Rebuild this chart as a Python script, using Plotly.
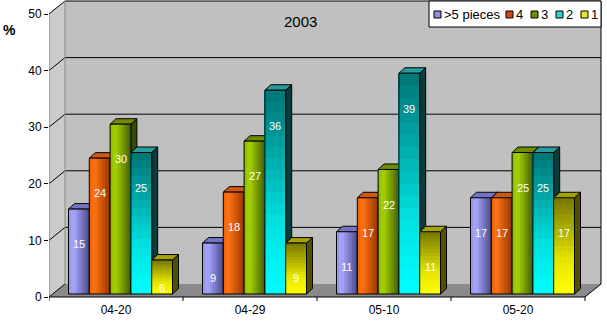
import plotly.graph_objects as go

# ---- data -------------------------------------------------------------
categories = ["04-20", "04-29", "05-10", "05-20"]
series_names = [">5 pieces", "4", "3", "2", "1"]
pieces_5plus = [15, 9, 11, 17]
pieces_4 = [24, 18, 17, 17]
pieces_3 = [30, 27, 22, 25]
pieces_2 = [25, 36, 39, 25]
pieces_1 = [6, 9, 11, 17]
y_tick_values = [0, 10, 20, 30, 40, 50]
chart_title = "2003"
y_title = "%"

series_values = [pieces_5plus, pieces_4, pieces_3, pieces_2, pieces_1]

# ---- styles -------------------------------------------------------------
# (gradient direction, gradient stops, top face, side face, legend swatch)
styles = [
    ("h", [(0.0, "#9090e4"), (0.25, "#a8a8ff"), (1.0, "#4a4a8c")], "#7474c2", "#3e3e76", "#8f8fd8"),
    ("h", [(0.0, "#f06000"), (0.25, "#ff7414"), (1.0, "#963600")], "#cc5a14", "#722c00", "#d04a10"),
    ("h", [(0.0, "#8cb800"), (0.25, "#a6d600"), (1.0, "#445c00")], "#6f8c00", "#384a00", "#6b8e00"),
    ("v", [(0.0, "#00ffff"), (0.35, "#00e0e0"), (1.0, "#007474")], "#269c9c", "#0a3c3c", "#30d0d0"),
    ("v", [(0.0, "#ffff00"), (0.35, "#e6e600"), (1.0, "#767600")], "#a4a400", "#505000", "#e8e820"),
]

FONT = "Liberation Sans, Arial, sans-serif"

# ---- geometry (pixel scale of the front plane) -------------------------
W_PX, H_PX = 607, 325
M_L, M_R, M_T, M_B = 49, 4, 0, 24
PX_PER_CAT = 134.0
PX_PER_UNIT = 5.66
plot_w = W_PX - M_L - M_R
plot_h = H_PX - M_T - M_B
x_range = [0, plot_w / PX_PER_CAT]
y_range = [-(plot_h - 297) / PX_PER_UNIT, 297 / PX_PER_UNIT]

n_cat = len(categories)
wall_dx = 16 / PX_PER_CAT
wall_dy = 13 / PX_PER_UNIT
y_top = y_tick_values[-1]

bar_w = 20.8 / PX_PER_CAT
bar_shift = 4.5 / PX_PER_CAT
bar_base = 3 / PX_PER_UNIT
bar_dx = 6 / PX_PER_CAT
bar_dy = 5.5 / PX_PER_UNIT


def hex_to_rgb(h):
    h = h.lstrip("#")
    return tuple(int(h[i:i + 2], 16) for i in (0, 2, 4))


def gradient_color(stops, t):
    for (t0, c0), (t1, c1) in zip(stops[:-1], stops[1:]):
        if t <= t1:
            f = 0 if t1 == t0 else (t - t0) / (t1 - t0)
            a, b = hex_to_rgb(c0), hex_to_rgb(c1)
            return "rgb(%d,%d,%d)" % tuple(round(a[i] + (b[i] - a[i]) * f) for i in range(3))
    return stops[-1][1]


def path(points):
    return "M " + " L ".join("%.5f,%.5f" % p for p in points) + " Z"


def bar_center(g, j):
    return g + 0.5 + bar_shift + (j - (len(series_names) - 1) / 2) * bar_w


shapes = []

# ---- 3-D box: side wall, back wall, floor -------------------------------
shapes.append(dict(type="path", layer="below", xref="x", yref="y",
                   path=path([(0, 0), (wall_dx, wall_dy), (wall_dx, y_top + wall_dy), (0, y_top)]),
                   fillcolor="#cbcbcb", line=dict(width=0)))
shapes.append(dict(type="rect", layer="below", xref="x", yref="y",
                   x0=wall_dx, x1=n_cat + wall_dx, y0=wall_dy, y1=y_top + wall_dy,
                   fillcolor="#c0c0c0", line=dict(width=0)))
shapes.append(dict(type="path", layer="below", xref="x", yref="y",
                   path=path([(0, 0), (n_cat, 0), (n_cat + wall_dx, wall_dy), (wall_dx, wall_dy)]),
                   fillcolor="#8a8a8a", line=dict(width=0)))

# gridlines on back wall + diagonals on side wall
for v in y_tick_values[1:]:
    shapes.append(dict(type="line", layer="below", xref="x", yref="y",
                       x0=wall_dx, x1=n_cat + wall_dx, y0=v + wall_dy, y1=v + wall_dy,
                       line=dict(color="black", width=1)))
for v in y_tick_values:
    shapes.append(dict(type="line", layer="below", xref="x", yref="y",
                       x0=0, x1=wall_dx, y0=v, y1=v + wall_dy,
                       line=dict(color="black", width=1)))
# box edges
shapes.append(dict(type="line", layer="below", xref="x", yref="y",
                   x0=0, x1=0, y0=0, y1=y_top, line=dict(color="#7a7a7a", width=1)))
shapes.append(dict(type="line", layer="below", xref="x", yref="y",
                   x0=wall_dx, x1=wall_dx, y0=wall_dy, y1=y_top + wall_dy,
                   line=dict(color="#8a8a8a", width=1)))
shapes.append(dict(type="line", layer="below", xref="x", yref="y",
                   x0=n_cat + wall_dx, x1=n_cat + wall_dx, y0=wall_dy, y1=y_top + wall_dy,
                   line=dict(color="black", width=1)))
shapes.append(dict(type="line", layer="below", xref="x", yref="y",
                   x0=n_cat, x1=n_cat + wall_dx, y0=0, y1=wall_dy,
                   line=dict(color="black", width=1)))
shapes.append(dict(type="line", layer="below", xref="x", yref="y",
                   x0=0, x1=n_cat, y0=0, y1=0, line=dict(color="black", width=1)))
# category tick marks
for k in range(n_cat + 1):
    shapes.append(dict(type="line", layer="below", xref="x", yref="y",
                       x0=k, x1=k, y0=0, y1=y_range[0], line=dict(color="black", width=1)))

# ---- bar top and side faces (drawn left to right, behind front faces) ---
for g in range(n_cat):
    for j, vals in enumerate(series_values):
        v = vals[g]
        xc = bar_center(g, j)
        xl, xr = xc - bar_w / 2, xc + bar_w / 2
        top = bar_base + v
        _, _, top_col, side_col, _ = styles[j]
        shapes.append(dict(type="path", layer="below", xref="x", yref="y",
                           path=path([(xr, bar_base), (xr, top), (xr + bar_dx, top + bar_dy),
                                      (xr + bar_dx, bar_base + bar_dy)]),
                           fillcolor=side_col, line=dict(color="black", width=1)))
        shapes.append(dict(type="path", layer="below", xref="x", yref="y",
                           path=path([(xl, top), (xr, top), (xr + bar_dx, top + bar_dy),
                                      (xl + bar_dx, top + bar_dy)]),
                           fillcolor=top_col, line=dict(color="black", width=1)))

# ---- front faces as layered gradient bands ------------------------------
# each band runs from its start to the far edge of the bar, so later bands
# cover earlier ones and no seams appear between them
fig = go.Figure()
for j, (name, vals) in enumerate(zip(series_names, series_values)):
    direction, stops = styles[j][0], styles[j][1]
    xs = [bar_center(g, j) for g in range(n_cat)]
    if direction == "h":
        n = 8
        for k in range(n):
            fig.add_trace(go.Bar(
                x=xs, y=vals, base=[bar_base] * n_cat,
                width=bar_w * (n - k) / n, offset=-bar_w / 2 + k * bar_w / n,
                marker=dict(color=gradient_color(stops, (k + 0.5) / n), line=dict(width=0)),
                showlegend=False, hoverinfo="skip"))
    else:
        n = 18
        for k in range(n):
            fig.add_trace(go.Bar(
                x=xs, y=[v * (n - k) / n for v in vals], base=[bar_base + v * k / n for v in vals],
                width=bar_w, offset=-bar_w / 2,
                marker=dict(color=gradient_color(stops, (k + 0.5) / n), line=dict(width=0)),
                showlegend=False, hoverinfo="skip"))
    # outline of the full bar
    fig.add_trace(go.Bar(
        x=xs, y=vals, base=[bar_base] * n_cat, width=bar_w, offset=-bar_w / 2,
        name=name, customdata=[categories[g] for g in range(n_cat)],
        marker=dict(color="rgba(0,0,0,0)", line=dict(color="black", width=1)),
        hovertemplate="%{customdata}: %{y}%<extra>" + name + "</extra>",
        showlegend=False))

# ---- value labels -----------------------------------------------------
annotations = []
for j, vals in enumerate(series_values):
    for g, v in enumerate(vals):
        annotations.append(dict(x=bar_center(g, j), y=max(v - 5.7, 1.6), xref="x", yref="y",
                                text=str(v), showarrow=False,
                                font=dict(family=FONT, size=11, color="white")))


def px_to_paper(px, py):
    return (px - M_L) / plot_w, (M_T + plot_h - py) / plot_h


# title and axis caption
annotations.append(dict(x=(300 - M_L) / PX_PER_CAT, y=(297 - 21) / PX_PER_UNIT, xref="x", yref="y",
                        text=chart_title, showarrow=False,
                        font=dict(family=FONT, size=15, color="black")))
cx, cy = px_to_paper(9, 30)
annotations.append(dict(x=cx, y=cy, xref="paper", yref="paper", xanchor="center", yanchor="middle",
                        text="<b>" + y_title + "</b>", showarrow=False,
                        font=dict(family=FONT, size=14, color="black")))

# ---- legend (compact, horizontal) ---------------------------------------
bx0, by0 = px_to_paper(429, 27)
bx1, by1 = px_to_paper(601, 1)
shapes.append(dict(type="rect", xref="paper", yref="paper", x0=bx0, x1=bx1, y0=by0, y1=by1,
                   fillcolor="white", line=dict(color="black", width=1), layer="above"))
swatch_left = [434, 506, 531, 556, 581]
for j, name in enumerate(series_names):
    sx0, sy0 = px_to_paper(swatch_left[j], 18)
    sx1, sy1 = px_to_paper(swatch_left[j] + 7, 11)
    shapes.append(dict(type="rect", xref="paper", yref="paper", x0=sx0, x1=sx1, y0=sy0, y1=sy1,
                       fillcolor=styles[j][4], line=dict(color="black", width=1), layer="above"))
    tx, ty = px_to_paper(swatch_left[j] + 9, 14.5)
    annotations.append(dict(x=tx, y=ty, xref="paper", yref="paper", xanchor="left", yanchor="middle",
                            text=name, showarrow=False, borderpad=0,
                            font=dict(family=FONT, size=13, color="black")))

fig.update_layout(
    width=W_PX, height=H_PX,
    margin=dict(l=M_L, r=M_R, t=M_T, b=M_B, autoexpand=False),
    paper_bgcolor="white", plot_bgcolor="white",
    barmode="overlay", showlegend=False,
    shapes=shapes, annotations=annotations,
    font=dict(family=FONT, size=12, color="black"),
    xaxis=dict(range=x_range, tickvals=[g + 0.5 for g in range(n_cat)], ticktext=categories,
               ticks="", showgrid=False, zeroline=False, showline=False, automargin=False,
               tickfont=dict(family=FONT, size=12, color="black"), fixedrange=True),
    yaxis=dict(range=y_range, tickvals=y_tick_values, ticks="outside", ticklen=4,
               tickcolor="black", showgrid=False, zeroline=False, showline=False, automargin=False,
               tickfont=dict(family=FONT, size=12, color="black"), fixedrange=True),
)

fig.write_html("out.html")
